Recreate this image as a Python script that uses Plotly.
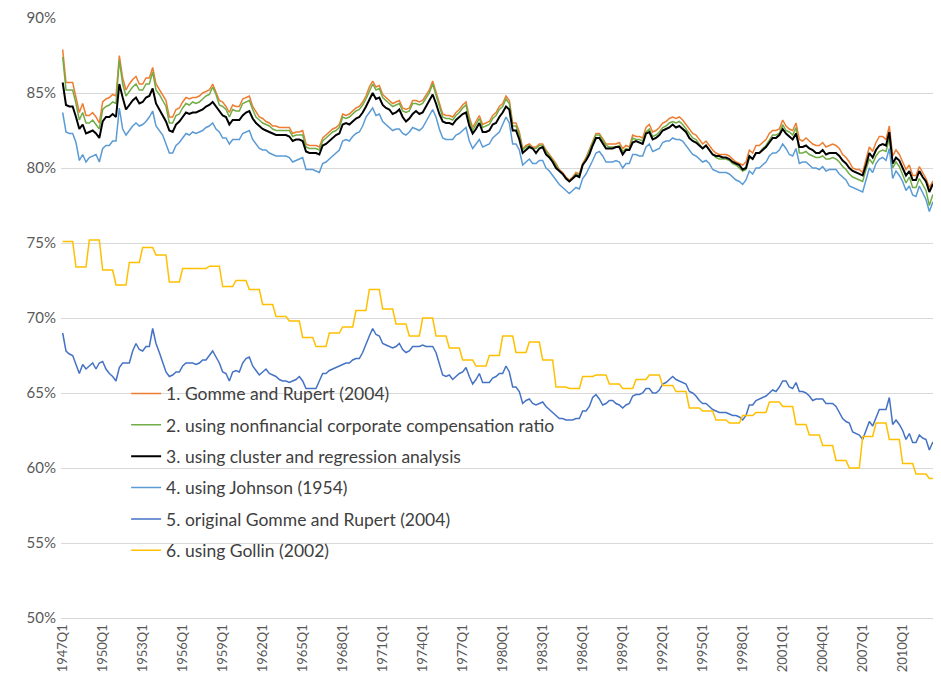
"""Labour share estimates, 1947Q1-2012Q4: six variants of the Gomme-Rupert measure."""

from __future__ import annotations

import plotly.graph_objects as go

FIRST_YEAR = 1947
LAST_YEAR = 2012

# quarterly series, percent
gomme_rupert = [
    87.9, 85.7, 85.7, 85.7, 84.7, 83.7, 84.3, 83.5, 83.5, 83.7, 83.4, 83.0,
    84.4, 84.6, 84.7, 84.9, 84.8, 87.5, 86.0, 85.2, 85.6, 85.9, 86.1,
    85.6, 85.6, 86.0, 86.0, 86.7, 85.6, 85.2, 84.8, 84.5, 83.4, 83.4, 83.9,
    84.0, 84.4, 84.7, 84.6, 84.7, 84.7, 84.8, 85.0, 85.1, 85.2, 85.6, 85.1,
    84.5, 84.4, 84.1, 83.7, 84.2, 84.1, 84.1, 84.6, 84.7, 84.8, 84.1,
    83.7, 83.4, 83.3, 83.1, 83.0, 82.8, 82.8, 82.7, 82.7, 82.7, 82.7, 82.3,
    82.4, 82.4, 82.5, 81.6, 81.5, 81.5, 81.5, 81.4, 82.0, 82.2, 82.4, 82.6,
    82.7, 82.9, 83.6, 83.5, 83.6, 83.8, 84.0, 84.1, 84.4, 84.8, 85.4, 85.8,
    85.4, 85.5, 84.9, 84.7, 84.5, 84.3, 84.4, 84.5, 84.0, 83.9, 84.0,
    84.5, 84.5, 84.4, 84.5, 84.9, 85.2, 85.8, 85.1, 84.3, 83.6, 83.5, 83.5,
    83.4, 83.7, 83.9, 84.2, 84.4, 83.4, 82.7, 83.1, 83.5, 82.9, 83.0, 83.1,
    83.5, 83.7, 84.1, 84.3, 84.8, 84.5, 83.0, 83.0, 82.4, 81.3, 81.5,
    81.6, 81.4, 81.4, 81.6, 81.6, 81.2, 80.9, 80.6, 80.3, 79.9, 79.7, 79.4,
    79.2, 79.4, 79.7, 79.6, 80.3, 80.7, 81.2, 81.7, 82.3, 82.3, 81.9, 81.6,
    81.6, 81.6, 81.6, 81.7, 81.3, 81.5, 81.4, 82.2, 82.1, 82.1, 82.0,
    82.7, 82.9, 82.4, 82.5, 82.7, 83.0, 83.1, 83.3, 83.4, 83.3, 83.4, 83.2,
    82.9, 82.6, 82.3, 82.2, 81.9, 81.6, 81.8, 81.5, 81.2, 81.0, 80.9, 80.9,
    80.9, 80.8, 80.6, 80.4, 80.3, 80.2, 80.4, 81.2, 81.0, 81.5, 81.5,
    81.7, 81.9, 82.3, 82.5, 82.5, 82.6, 83.2, 82.8, 82.6, 82.5, 83.0, 81.9,
    81.8, 82.0, 81.8, 81.6, 81.5, 81.5, 81.7, 81.4, 81.5, 81.6, 81.5, 81.3,
    80.9, 80.7, 80.4, 80.0, 79.9, 79.9, 79.7, 80.5, 81.4, 81.1, 81.7, 82.1,
    82.1, 81.9, 82.8, 80.8, 81.2, 80.9, 80.4, 79.9, 80.2, 79.5, 79.5,
    80.1, 79.7, 79.3, 78.7, 79.1, 79.1, 78.8,
]

nonfin_comp_ratio = [
    87.4, 85.2, 85.2, 85.2, 84.3, 83.2, 83.7, 83.0, 83.0, 83.2, 82.9, 82.6,
    83.9, 84.1, 84.2, 84.4, 84.3, 87.2, 85.6, 84.8, 85.1, 85.4, 85.6,
    85.2, 85.2, 85.6, 85.6, 86.4, 85.2, 84.9, 84.5, 84.1, 83.0, 83.0, 83.5,
    83.6, 84.0, 84.3, 84.2, 84.4, 84.3, 84.4, 84.6, 84.8, 84.9, 85.4, 84.9,
    84.2, 84.1, 83.9, 83.4, 83.9, 83.8, 83.8, 84.3, 84.4, 84.5, 83.9,
    83.4, 83.2, 83.0, 82.9, 82.8, 82.6, 82.5, 82.5, 82.5, 82.5, 82.5, 82.1,
    82.2, 82.2, 82.2, 81.4, 81.3, 81.3, 81.3, 81.2, 81.8, 82.0, 82.2, 82.4,
    82.5, 82.7, 83.4, 83.3, 83.4, 83.6, 83.8, 83.9, 84.2, 84.6, 85.1, 85.6,
    85.2, 85.3, 84.7, 84.5, 84.3, 84.1, 84.2, 84.3, 83.8, 83.7, 83.8,
    84.3, 84.3, 84.2, 84.3, 84.7, 85.0, 85.6, 84.9, 84.1, 83.4, 83.3, 83.3,
    83.2, 83.5, 83.7, 84.0, 84.2, 83.2, 82.5, 82.9, 83.3, 82.7, 82.8, 82.9,
    83.3, 83.5, 83.9, 84.1, 84.6, 84.3, 82.8, 82.8, 82.2, 81.2, 81.4,
    81.5, 81.3, 81.3, 81.5, 81.5, 81.1, 80.8, 80.5, 80.2, 79.8, 79.6, 79.3,
    79.1, 79.3, 79.6, 79.5, 80.2, 80.6, 81.1, 81.6, 82.2, 82.2, 81.8, 81.5,
    81.4, 81.4, 81.4, 81.5, 81.1, 81.3, 81.2, 82.0, 81.9, 81.9, 81.8,
    82.4, 82.6, 82.1, 82.2, 82.4, 82.7, 82.8, 83.0, 83.1, 83.0, 83.1, 82.9,
    82.6, 82.3, 82.0, 81.9, 81.6, 81.3, 81.5, 81.2, 80.9, 80.7, 80.6, 80.6,
    80.6, 80.5, 80.3, 80.2, 80.0, 79.8, 79.9, 80.7, 80.6, 81.0, 81.0,
    81.3, 81.5, 81.9, 82.2, 82.2, 82.3, 82.9, 82.5, 82.4, 82.2, 82.7, 81.0,
    81.0, 81.1, 80.9, 80.8, 80.7, 80.7, 80.8, 80.6, 80.6, 80.7, 80.6, 80.4,
    80.1, 79.9, 79.6, 79.4, 79.3, 79.2, 79.1, 79.9, 80.6, 80.3, 80.8, 81.1,
    81.2, 81.1, 82.0, 80.0, 80.4, 80.1, 79.6, 79.0, 79.4, 78.7, 78.7,
    79.3, 78.9, 78.5, 77.5, 78.2, 78.2, 78.0,
]

cluster_regression = [
    85.7, 84.2, 84.1, 84.1, 83.4, 82.6, 82.9, 82.3, 82.4, 82.5, 82.3, 82.0,
    83.1, 83.4, 83.4, 83.6, 83.4, 85.6, 84.7, 83.9, 84.2, 84.5, 84.7,
    84.3, 84.4, 84.7, 84.8, 85.3, 84.3, 83.9, 83.6, 83.1, 82.5, 82.4, 82.9,
    83.1, 83.4, 83.7, 83.6, 83.7, 83.7, 83.8, 83.9, 84.1, 84.2, 84.4, 84.1,
    83.8, 83.5, 83.4, 82.9, 83.2, 83.2, 83.2, 83.5, 83.7, 83.8, 83.3,
    83.0, 82.8, 82.6, 82.5, 82.4, 82.3, 82.2, 82.2, 82.2, 82.2, 82.1, 81.8,
    81.9, 81.9, 81.8, 81.1, 81.0, 81.0, 81.0, 80.9, 81.5, 81.6, 81.8, 82.0,
    82.2, 82.3, 82.9, 83.0, 82.9, 83.1, 83.3, 83.4, 83.7, 84.1, 84.5, 85.0,
    84.6, 84.7, 84.2, 84.0, 83.9, 83.6, 83.7, 83.9, 83.4, 83.1, 83.3,
    83.6, 83.8, 83.6, 83.7, 84.1, 84.5, 84.9, 84.3, 83.6, 83.1, 83.0, 83.0,
    82.9, 83.2, 83.4, 83.6, 83.7, 82.8, 82.3, 82.6, 83.0, 82.4, 82.4, 82.5,
    82.9, 83.0, 83.4, 83.7, 84.1, 83.9, 82.5, 82.5, 81.9, 81.0, 81.2,
    81.4, 81.3, 81.0, 81.3, 81.4, 80.9, 80.7, 80.4, 80.0, 79.8, 79.6, 79.3,
    79.1, 79.3, 79.5, 79.4, 80.2, 80.5, 80.9, 81.5, 82.0, 82.0, 81.6, 81.3,
    81.3, 81.3, 81.4, 81.4, 80.9, 81.2, 81.2, 81.7, 81.8, 81.7, 81.6,
    82.3, 82.4, 81.9, 82.0, 82.2, 82.5, 82.6, 82.7, 82.9, 82.7, 82.8, 82.6,
    82.4, 82.0, 81.8, 81.7, 81.5, 81.3, 81.5, 81.2, 80.9, 80.8, 80.8, 80.7,
    80.7, 80.6, 80.4, 80.3, 80.2, 79.9, 80.0, 80.8, 80.6, 81.0, 81.0,
    81.2, 81.4, 81.7, 82.0, 82.0, 82.2, 82.6, 82.3, 82.1, 81.9, 82.3, 81.4,
    81.4, 81.5, 81.3, 81.2, 81.0, 81.0, 81.2, 80.9, 81.0, 81.0, 81.0, 80.8,
    80.5, 80.3, 80.0, 79.8, 79.7, 79.6, 79.5, 80.2, 81.0, 80.7, 81.2, 81.5,
    81.6, 81.5, 82.4, 80.3, 80.7, 80.5, 80.0, 79.5, 79.8, 79.2, 79.2,
    79.8, 79.4, 79.1, 78.4, 78.9, 79.0, 78.7,
]

johnson = [
    83.7, 82.4, 82.3, 82.3, 81.7, 80.5, 80.9, 80.4, 80.7, 80.8, 80.9, 80.4,
    81.3, 81.5, 81.5, 81.8, 81.8, 84.0, 82.6, 82.2, 82.5, 82.8, 83.0,
    82.8, 82.9, 83.1, 83.4, 83.8, 82.8, 82.5, 82.2, 81.6, 81.0, 81.0, 81.5,
    81.7, 82.0, 82.3, 82.2, 82.4, 82.3, 82.4, 82.5, 82.7, 82.8, 83.0, 82.6,
    82.4, 82.0, 82.0, 81.6, 81.9, 81.9, 81.9, 82.3, 82.4, 82.5, 81.9,
    81.6, 81.3, 81.2, 81.2, 81.0, 80.9, 80.8, 80.8, 80.8, 80.8, 80.7, 80.4,
    80.5, 80.6, 80.7, 79.9, 79.9, 79.9, 79.8, 79.7, 80.3, 80.4, 80.6, 80.8,
    81.0, 81.2, 81.8, 81.9, 81.8, 82.1, 82.3, 82.4, 82.8, 83.4, 83.7, 84.0,
    83.5, 83.6, 83.1, 82.9, 82.7, 82.5, 82.6, 82.6, 82.3, 82.2, 82.4,
    82.7, 82.6, 82.5, 82.7, 83.1, 83.5, 83.9, 83.4, 82.6, 82.0, 81.9, 81.9,
    81.9, 82.2, 82.3, 82.5, 82.7, 81.8, 81.3, 81.6, 81.9, 81.4, 81.5, 81.6,
    82.0, 82.2, 82.4, 82.9, 83.4, 83.0, 81.6, 81.6, 81.2, 80.2, 80.4,
    80.6, 80.3, 80.3, 80.5, 80.5, 80.0, 79.8, 79.5, 79.2, 78.9, 78.7, 78.5,
    78.3, 78.5, 78.7, 78.6, 79.3, 79.6, 80.0, 80.5, 81.0, 81.1, 80.8, 80.4,
    80.4, 80.4, 80.5, 80.4, 80.0, 80.3, 80.3, 80.9, 80.9, 80.8, 80.8,
    81.4, 81.6, 81.1, 81.2, 81.3, 81.7, 81.8, 81.8, 82.0, 81.9, 81.9, 81.8,
    81.5, 81.2, 80.9, 80.8, 80.6, 80.4, 80.5, 80.3, 79.9, 79.8, 79.7, 79.7,
    79.7, 79.6, 79.4, 79.2, 79.1, 78.9, 79.2, 79.8, 79.6, 80.0, 80.0,
    80.2, 80.4, 80.8, 81.0, 81.0, 81.2, 81.6, 81.3, 80.9, 80.8, 81.3, 80.3,
    80.4, 80.4, 80.2, 80.0, 80.0, 79.9, 80.1, 79.8, 79.9, 79.9, 79.9, 79.6,
    79.4, 79.2, 78.8, 78.7, 78.6, 78.5, 78.4, 79.2, 80.0, 79.7, 80.3, 80.6,
    80.7, 80.5, 81.3, 79.3, 79.8, 79.5, 79.1, 78.5, 78.8, 78.2, 78.1,
    78.8, 78.4, 77.9, 77.1, 77.7, 77.6, 77.5,
]

original_gr = [
    69.0, 67.8, 67.6, 67.5, 66.9, 66.3, 66.9, 66.6, 66.8, 67.0, 66.6, 67.0,
    67.1, 66.6, 66.3, 66.1, 65.8, 66.7, 67.0, 67.0, 67.0, 67.8, 68.3,
    67.9, 67.8, 68.1, 68.1, 69.3, 68.3, 67.7, 67.0, 66.4, 66.1, 66.2, 66.4,
    66.4, 66.8, 67.0, 67.0, 67.0, 66.9, 67.0, 67.2, 67.2, 67.5, 67.8, 67.4,
    67.0, 66.4, 66.3, 65.8, 66.4, 66.5, 66.4, 67.0, 67.3, 67.4, 66.8,
    66.5, 66.2, 66.4, 66.6, 66.3, 66.2, 66.1, 65.9, 65.8, 65.8, 65.7, 65.8,
    65.9, 66.1, 65.8, 65.3, 65.3, 65.3, 65.3, 65.8, 66.3, 66.3, 66.5, 66.6,
    66.7, 66.8, 66.9, 67.0, 67.0, 67.2, 67.3, 67.3, 67.7, 68.3, 68.8, 69.3,
    68.9, 68.8, 68.3, 68.2, 68.1, 68.0, 68.1, 68.3, 67.9, 67.7, 67.8,
    68.1, 68.1, 68.1, 68.2, 68.1, 68.1, 68.1, 67.7, 66.9, 66.2, 66.1, 66.2,
    65.9, 66.1, 66.3, 66.4, 66.7, 66.1, 65.6, 65.9, 66.3, 65.7, 65.7, 65.7,
    66.0, 66.1, 66.3, 66.3, 66.8, 66.4, 65.4, 65.4, 65.1, 64.3, 64.5,
    64.6, 64.3, 64.2, 64.3, 64.4, 64.1, 63.9, 63.7, 63.5, 63.3, 63.3, 63.2,
    63.2, 63.2, 63.3, 63.3, 63.8, 63.8, 64.1, 64.7, 64.9, 64.6, 64.2, 64.3,
    64.5, 64.5, 64.3, 64.2, 64.0, 64.2, 64.3, 64.8, 64.9, 64.9, 65.0,
    65.3, 65.3, 65.0, 65.0, 65.2, 65.6, 65.7, 65.9, 66.1, 65.9, 65.8, 65.7,
    65.6, 65.1, 65.0, 64.8, 64.5, 64.3, 64.3, 64.1, 63.9, 63.8, 63.7, 63.7,
    63.7, 63.6, 63.5, 63.5, 63.4, 63.2, 63.5, 64.2, 64.2, 64.5, 64.6,
    64.7, 64.8, 65.0, 65.2, 65.1, 65.4, 65.8, 65.8, 65.4, 65.3, 65.7, 65.1,
    65.1, 65.0, 64.8, 64.5, 64.6, 64.6, 64.6, 64.3, 64.3, 64.3, 64.1, 63.7,
    63.3, 63.1, 63.0, 62.4, 62.3, 62.2, 61.9, 62.5, 63.1, 62.8, 63.3, 63.9,
    63.9, 63.9, 64.7, 62.9, 63.2, 62.9, 62.5, 61.9, 62.3, 61.7, 61.7,
    62.2, 62.0, 61.9, 61.2, 61.7, 61.7, 61.5,
]

# Gollin adjustment is annual; shown flat across the four quarters of each year
gollin_annual = [
    75.1, 73.4, 75.2, 73.2, 72.2, 73.7, 74.7, 74.2, 72.4, 73.3,   # 1947-56
    73.3, 73.45, 72.1, 72.5, 71.9, 70.9, 70.1, 69.8, 68.7, 68.1,  # 1957-66
    69.0, 69.4, 70.5, 71.9, 70.6, 69.6, 68.8, 70.0, 68.8, 68.0,   # 1967-76
    67.2, 66.8, 67.5, 68.8, 67.7, 68.4, 67.2, 65.4, 65.3, 66.1,   # 1977-86
    66.2, 65.6, 65.3, 65.9, 66.2, 65.5, 65.1, 64.0, 63.8, 63.2,   # 1987-96
    63.0, 63.5, 63.7, 64.4, 64.1, 62.9, 62.2, 61.5, 60.5, 60.0,   # 1997-06
    62.1, 63.0, 61.9, 60.3, 59.6, 59.3,                           # 2007-12
]

SERIES = [
    ("1. Gomme and Rupert (2004)", gomme_rupert, "#ED7D31", 1.5),
    ("2. using nonfinancial corporate compensation ratio", nonfin_comp_ratio, "#70AD47", 1.5),
    ("3. using cluster and regression analysis", cluster_regression, "#000000", 2),
    ("4. using Johnson (1954)", johnson, "#5B9BD5", 1.5),
    ("5. original Gomme and Rupert (2004)", original_gr, "#4472C4", 1.5),
    ("6. using Gollin (2002)", [v for v in gollin_annual for _ in range(4)], "#FFC000", 1.5),
]

FONT = "Lato, 'Open Sans', sans-serif"


def quarters() -> list[str]:
    return [f"{y}Q{q}" for y in range(FIRST_YEAR, LAST_YEAR + 1) for q in range(1, 5)]


def build() -> go.Figure:
    cats = quarters()
    fig = go.Figure()
    for i, (name, vals, color, width) in enumerate(SERIES):
        fig.add_scatter(
            x=cats[: len(vals)],
            y=vals,
            name=name,
            mode="lines",
            line=dict(color=color, width=width),
            legendgroup=f"g{i}",
        )
    # the page body has an 8px margin, so the figure is sized to fit inside it
    fig.update_layout(
        width=933,
        height=688,
        margin=dict(l=53, r=0, t=7, b=78),
        plot_bgcolor="white",
        paper_bgcolor="white",
        font=dict(family=FONT, color="#595959"),
        showlegend=True,
        legend=dict(
            x=0.074,
            y=0.404,
            xanchor="left",
            yanchor="top",
            bgcolor="rgba(0,0,0,0)",
            font=dict(size=17.5, color="#404040"),
            tracegroupgap=5.6,
            itemwidth=30,
        ),
    )
    fig.update_xaxes(
        type="category",
        range=[-0.5, len(cats) - 0.5],
        tickmode="array",
        tickvals=cats[::12],
        ticktext=cats[::12],
        tickangle=-90,
        tickfont=dict(size=13, color="#595959"),
        showgrid=False,
        showline=True,
        linecolor="#D9D9D9",
        linewidth=1,
        ticks="",
    )
    fig.update_yaxes(
        range=[50, 90],
        dtick=5,
        ticksuffix="%",
        tickfont=dict(size=15, color="#595959"),
        ticklabeloverflow="allow",
        ticklabelstandoff=4,
        gridcolor="#D9D9D9",
        gridwidth=1,
        zeroline=False,
        ticks="",
    )
    return fig


if __name__ == "__main__":
    build().write_html("out.html")
